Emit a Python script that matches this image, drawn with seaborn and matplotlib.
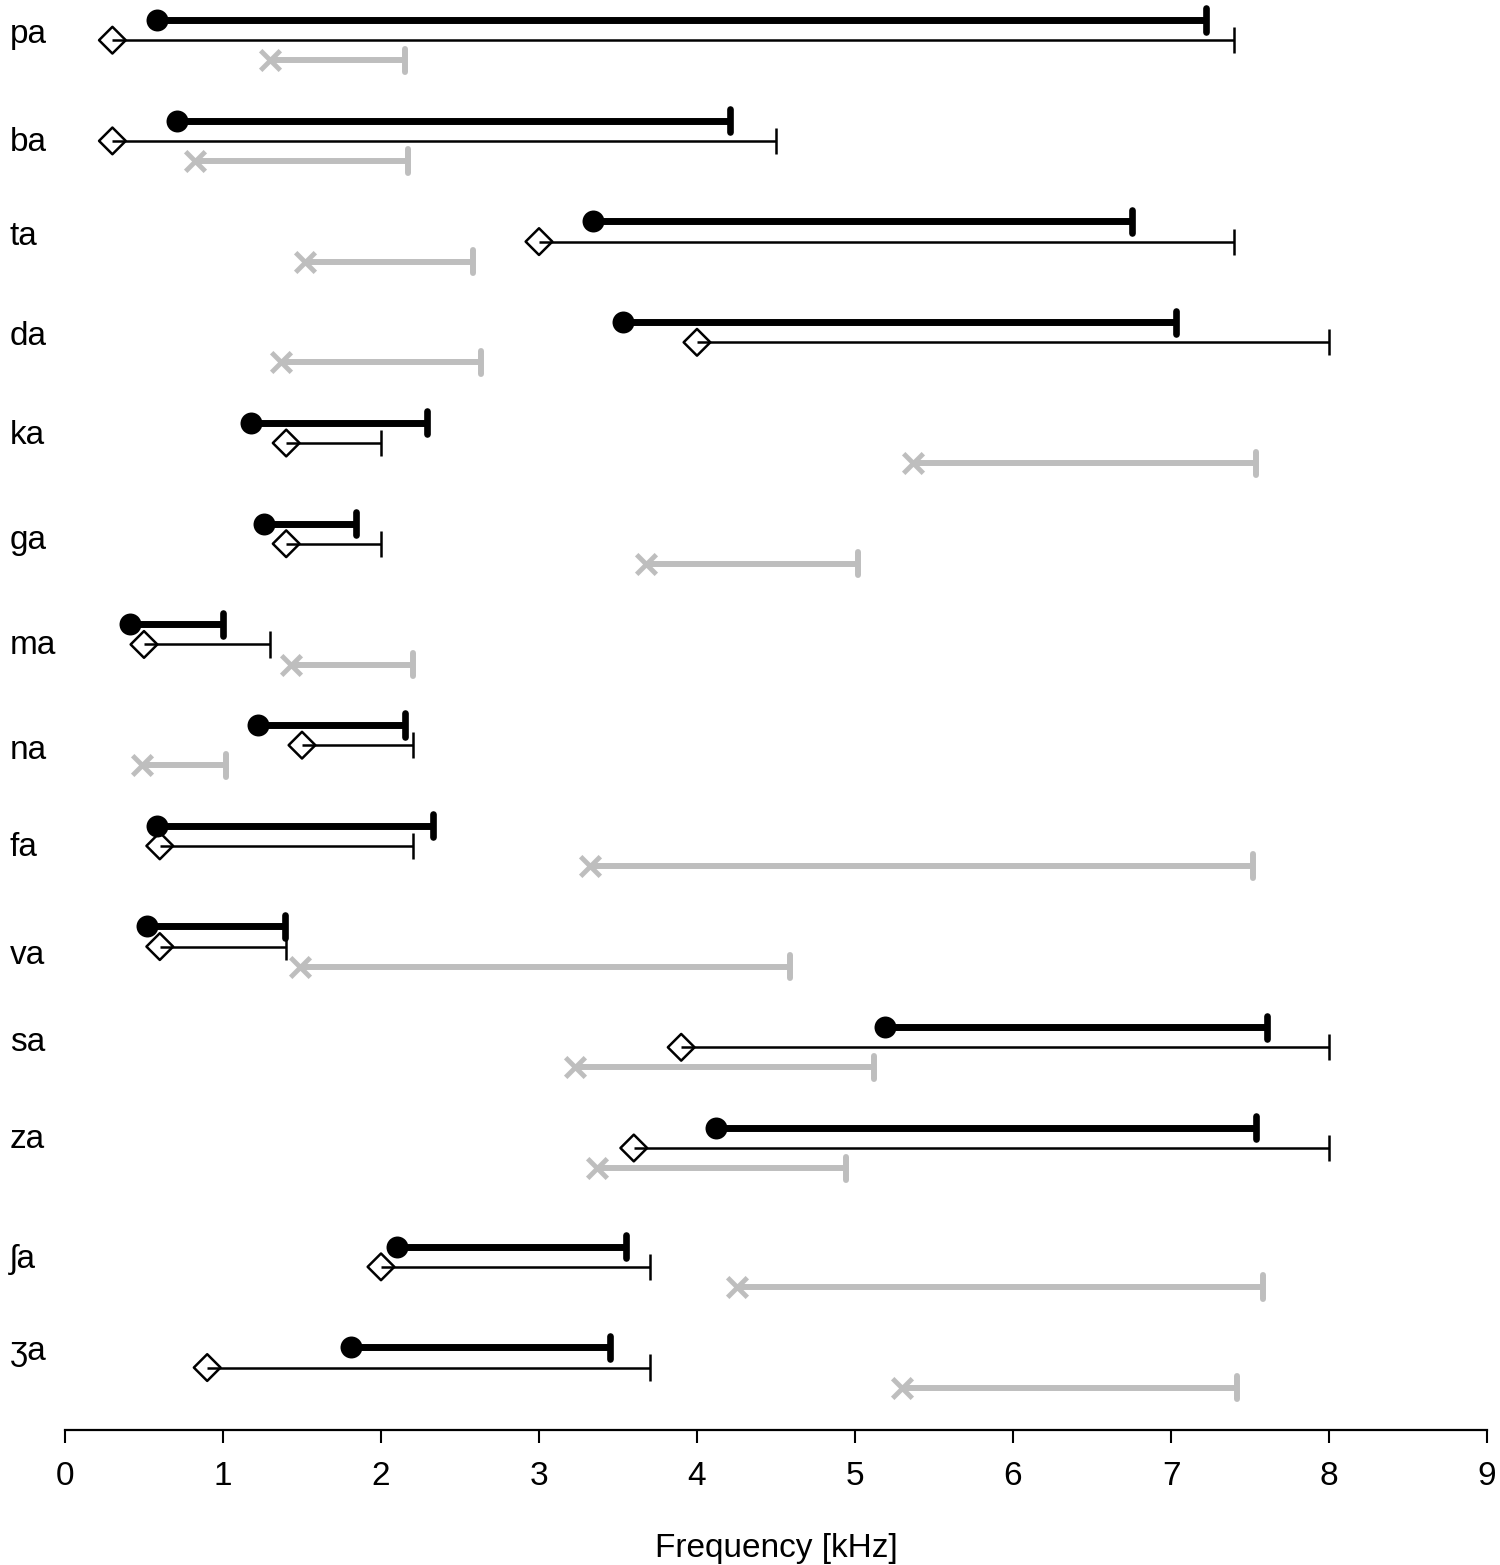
import numpy as np
import pandas as pd
import matplotlib.pyplot as plt
import seaborn as sns

syllables = ['pa', 'ba', 'ta', 'da', 'ka', 'ga', 'ma', 'na', 'fa', 'va', 'sa', 'za', 'ʃa', 'ʒa']

# thick black ranges (filled circle start)
black_lo = [0.58, 0.71, 3.34, 3.53, 1.18, 1.26, 0.41, 1.22, 0.58, 0.52, 5.19, 4.12, 2.10, 1.81]
black_hi = [7.22, 4.21, 6.75, 7.03, 2.29, 1.84, 1.00, 2.15, 2.33, 1.39, 7.61, 7.54, 3.55, 3.45]

# thin black ranges (open diamond start)
thin_lo = [0.30, 0.30, 3.00, 4.00, 1.40, 1.40, 0.50, 1.50, 0.60, 0.60, 3.90, 3.60, 2.00, 0.90]
thin_hi = [7.40, 4.50, 7.40, 8.00, 2.00, 2.00, 1.30, 2.20, 2.20, 1.40, 8.00, 8.00, 3.70, 3.70]

# grey ranges (cross start)
gray_lo = [1.30, 0.82, 1.52, 1.37, 5.37, 3.68, 1.43, 0.49, 3.32, 1.49, 3.23, 3.37, 4.25, 5.30]
gray_hi = [2.15, 2.17, 2.58, 2.63, 7.54, 5.02, 2.20, 1.02, 7.52, 4.59, 5.12, 4.94, 7.58, 7.42]

xticks = [0, 1, 2, 3, 4, 5, 6, 7, 8, 9]

# labels are not exactly on the rows in the original, nudge in px
label_nudge = [3, 10, 3, 3, 1, 5, 10, 14, 10, 17, 4, 0, 1, -8]

sns.set_style('white')
plt.rcParams['font.family'] = ['Liberation Sans', 'DejaVu Sans']
plt.rcParams['text.color'] = 'black'
plt.rcParams['xtick.color'] = 'black'
plt.rcParams['axes.labelcolor'] = 'black'

n = len(syllables)
idx = np.arange(n)
row = idx + np.where(idx >= 12, 0.18, 0.0)
px = 1 / 100.7  # one pixel in row units

df = pd.DataFrame({
    'syllable': np.tile(syllables, 3),
    'series': np.repeat(['black', 'thin', 'gray'], n),
    'lo': black_lo + thin_lo + gray_lo,
    'hi': black_hi + thin_hi + gray_hi,
    'y': np.concatenate([row - 0.2, row, row + 0.2]),
})

fig = plt.figure(figsize=(15, 15.65), dpi=100)
ax = fig.add_axes([65 / 1500, 135 / 1565, 1422 / 1500, 1430 / 1565])

grey = '#bebebe'

# thick black
d = df[df.series == 'black']
ax.hlines(d.y, d.lo, d.hi, color='black', lw=5, capstyle='butt')
vl = ax.vlines(d.hi, d.y - 0.115, d.y + 0.115, color='black', lw=4.8)
vl.set_capstyle('round')
sns.scatterplot(data=d, x='lo', y='y', ax=ax, marker='o', color='black',
                s=250, linewidth=0, zorder=5)

# thin black
d = df[df.series == 'thin']
ax.hlines(d.y, d.lo, d.hi, color='black', lw=1.8)
ax.vlines(d.hi, d.y - 0.13, d.y + 0.13, color='black', lw=1.8)
sns.scatterplot(data=d, x='lo', y='y', ax=ax, marker='D', facecolor='none',
                edgecolor='black', s=185, linewidth=1.8, zorder=5)

# grey
d = df[df.series == 'gray']
ax.hlines(d.y, d.lo, d.hi, color=grey, lw=4.3)
vl = ax.vlines(d.hi, d.y - 0.115, d.y + 0.115, color=grey, lw=4.3)
vl.set_capstyle('round')
sns.scatterplot(data=d, x='lo', y='y', ax=ax, marker='x', color=grey,
                s=200, linewidth=3.5, zorder=5)

# row labels
for name, r, nud in zip(syllables, row, label_nudge):
    ax.text(-0.35, r + nud * px, name, fontsize=24, ha='left', va='baseline')

ax.set_xlim(0, 9)
ax.set_ylim(13.80, -0.399)
ax.set_xticks(xticks)
ax.set_yticks([])
ax.set_ylabel('')
ax.set_xlabel('Frequency [kHz]', fontsize=24, labelpad=30)
ax.tick_params(axis='x', direction='out', length=9, width=1.5, pad=13,
               labelsize=24, bottom=True, color='black', labelcolor='black')
for side in ['left', 'right', 'top']:
    ax.spines[side].set_visible(False)
ax.spines['bottom'].set_linewidth(1.6)
ax.spines['bottom'].set_color('black')

fig.savefig('out.png', dpi=100)
